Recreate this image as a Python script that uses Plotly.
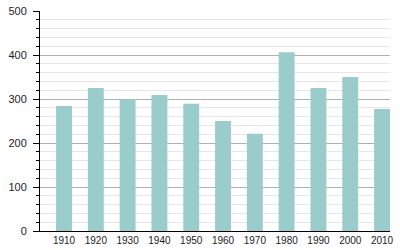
import plotly.graph_objects as go

years = [1910, 1920, 1930, 1940, 1950, 1960, 1970, 1980, 1990, 2000, 2010]
population = [284, 325, 299, 309, 289, 250, 221, 406, 325, 350, 277]
tick_labels = [str(y) for y in years]

fig = go.Figure(go.Bar(
    x=years, y=population, width=5,
    marker=dict(color="#99cccb", line=dict(width=0)),
))

fig.update_layout(
    width=400, height=250,
    margin=dict(l=40, r=10, t=11, b=19, pad=0),
    paper_bgcolor="white", plot_bgcolor="white",
    showlegend=False,
    font=dict(family="Liberation Sans, Arial, sans-serif", color="#222"),
)
fig.update_xaxes(
    range=[1902.45, 2012.5], tickvals=years, ticktext=tick_labels,
    showgrid=False, zeroline=False, automargin=False,
    showline=True, linecolor="black", linewidth=1,
    ticks="", tickfont=dict(size=10, color="#222"),
)
fig.update_yaxes(
    range=[0, 500], dtick=100, automargin=False,
    showline=True, linecolor="black", linewidth=1,
    ticks="outside", ticklen=6, tickcolor="black", tickwidth=1,
    gridcolor="#b0b0b0", gridwidth=1, zeroline=False,
    tickfont=dict(size=11, color="#222"),
    ticklabelstandoff=4,
    minor=dict(dtick=20, ticks="outside", ticklen=3, tickcolor="black",
               showgrid=True, gridcolor="#e6e6e6", gridwidth=1),
)

fig.write_html("out.html")
